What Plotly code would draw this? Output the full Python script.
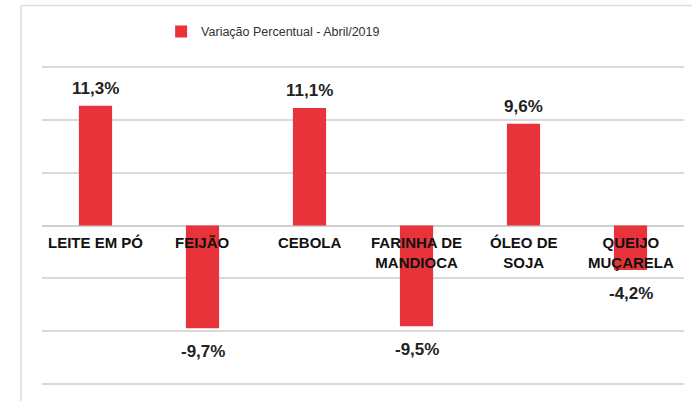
import plotly.graph_objects as go

categories = ["LEITE EM PÓ", "FEIJÃO", "CEBOLA", "FARINHA DE<br>MANDIOCA", "ÓLEO DE<br>SOJA", "QUEIJO<br>MUÇARELA"]
values = [11.3, -9.7, 11.1, -9.5, 9.6, -4.2]
value_labels = ["11,3%", "-9,7%", "11,1%", "-9,5%", "9,6%", "-4,2%"]
series_name = "Variação Percentual - Abril/2019"
y_ticks = [-15, -10, -5, 0, 5, 10, 15]

RED = "#E8333A"

fig = go.Figure()
fig.add_trace(go.Bar(
    x=categories, y=values, name=series_name,
    marker=dict(color=RED, line=dict(width=0)),
    showlegend=True,
))

annotations = []
for c, v, t in zip(categories, values, value_labels):
    annotations.append(dict(
        x=c, y=v, xref="x", yref="y", text=t, showarrow=False,
        yanchor="middle", yshift=17 if v > 0 else -23,
        font=dict(family="Liberation Sans", size=17, color="#222222", weight="bold"),
    ))
    annotations.append(dict(
        x=c, y=0, xref="x", yref="y", text=c, showarrow=False,
        yanchor="top", yshift=-6,
        font=dict(family="Liberation Sans", size=15, color="#111111", weight="bold"),
    ))

fig.update_layout(
    width=692, height=401,
    margin=dict(l=42, r=8, t=65, b=15, autoexpand=False),
    paper_bgcolor="white", plot_bgcolor="white",
    bargap=0.69,
    xaxis=dict(showticklabels=False, showgrid=False, zeroline=False, showline=False, ticks=""),
    yaxis=dict(range=[-15.15, 15.15], tickvals=y_ticks, showticklabels=False,
               showgrid=True, gridcolor="#D9D9D9", gridwidth=1.5,
               zeroline=True, zerolinecolor="#D0D0D0", zerolinewidth=1.5, showline=False),
    legend=dict(orientation="h", x=0.36, xanchor="center", y=0.958, yanchor="top",
                yref="container", font=dict(family="Liberation Sans", size=12.5, color="#333333"),
                bgcolor="rgba(0,0,0,0)"),
    annotations=annotations,
    shapes=[
        dict(type="line", xref="paper", yref="paper", x0=-0.0327, x1=-0.0327, y0=-0.05, y1=1.185,
             line=dict(color="#DDDDDD", width=1.5)),
        dict(type="line", xref="paper", yref="paper", x0=-0.0327, x1=1.02, y0=1.185, y1=1.185,
             line=dict(color="#DDDDDD", width=1.5)),
    ],
)

fig.write_html("out.html", config={"displayModeBar": False},
               post_script="document.body.style.margin='0';")
